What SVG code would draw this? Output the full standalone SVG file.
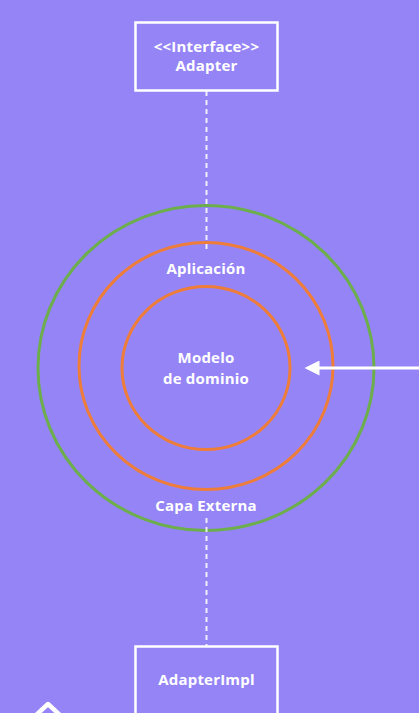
<svg xmlns="http://www.w3.org/2000/svg" width="419" height="713" viewBox="0 0 419 713">
  <defs>
    <style>
      .bg { fill: #9584f6; }
      .box { fill: none; stroke: #ffffff; stroke-width: 2.5; }
      .lbl { font-family: "Open Sans", "Noto Sans", "Liberation Sans", sans-serif; font-weight: 700; font-size: 15px; letter-spacing: 0.2px; fill: #ffffff; text-anchor: middle; }
      .dash { stroke: #ffffff; stroke-opacity: 0.85; stroke-width: 2; stroke-dasharray: 5 4; fill: none; }
      .ring-green { fill: none; stroke: #6cae4c; stroke-width: 3; }
      .ring-orange { fill: none; stroke: #ee7d3a; stroke-width: 3; }
    </style>
    <marker id="head" viewBox="0 0 10 10" refX="1" refY="5" markerWidth="7" markerHeight="5" markerUnits="strokeWidth" orient="auto-start-reverse">
      <path d="M0,0 L10,5 L0,10 Z" fill="#ffffff"/>
    </marker>
  </defs>

  <rect class="bg" x="0" y="0" width="419" height="713"/>

  <!-- layers -->
  <g id="capa-externa">
    <ellipse class="ring-green" cx="206" cy="368" rx="168" ry="162.5"/>
    <text class="lbl" x="206" y="511">Capa Externa</text>
  </g>
  <g id="aplicacion">
    <ellipse class="ring-orange" cx="206" cy="366" rx="127" ry="123.5"/>
    <text class="lbl" x="206" y="274">Aplicación</text>
  </g>
  <g id="modelo-dominio">
    <ellipse class="ring-orange" cx="206" cy="368" rx="84" ry="81.5"/>
    <text class="lbl" x="206" y="363">Modelo</text>
    <text class="lbl" x="206" y="384">de dominio</text>
  </g>

  <!-- connectors -->
  <g id="connectors">
    <line class="dash" x1="206.5" y1="91" x2="206.5" y2="252"/>
    <line class="dash" x1="206.5" y1="518" x2="206.5" y2="646"/>
    <line x1="419" y1="368" x2="318" y2="368" stroke="#ffffff" stroke-width="3" marker-end="url(#head)"/>
  </g>

  <g id="interface-adapter">
    <rect class="box" x="135.5" y="22.5" width="142" height="68"/>
    <text class="lbl" x="206.5" y="52">&lt;&lt;Interface&gt;&gt;</text>
    <text class="lbl" x="206.5" y="71">Adapter</text>
  </g>

  <g id="adapter-impl">
    <rect class="box" x="135.5" y="646.5" width="142" height="80"/>
    <text class="lbl" x="206.5" y="685">AdapterImpl</text>
  </g>

  <!-- corner mark, partly outside the view -->
  <polyline points="34,717 48,704 62,717" fill="none" stroke="#ffffff" stroke-width="4.5" stroke-linejoin="round" stroke-linecap="round"/>
</svg>
